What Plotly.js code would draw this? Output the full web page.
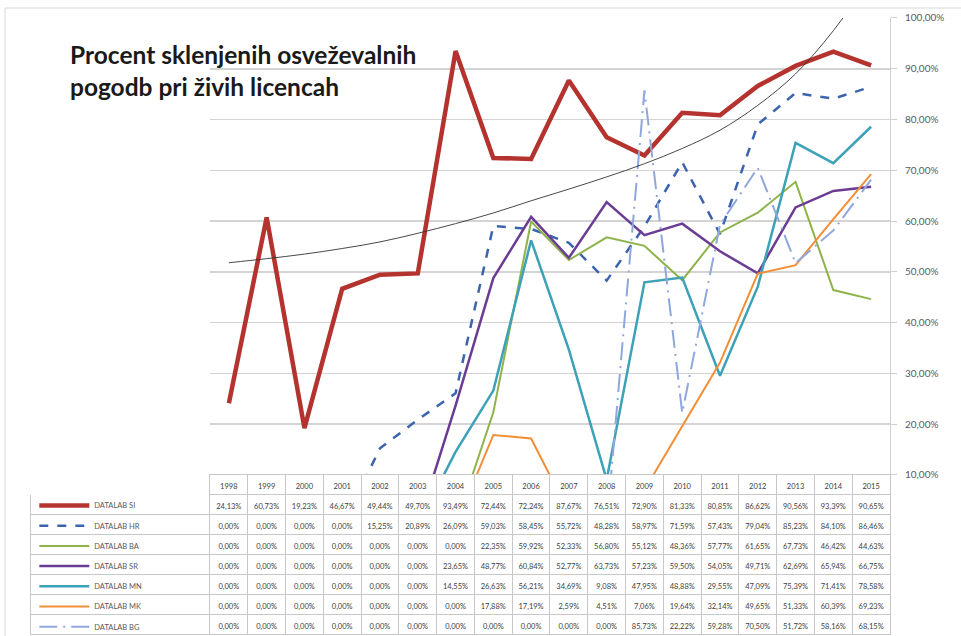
<!DOCTYPE html>
<html>
<head>
<meta charset="utf-8">
<script src="https://cdn.plot.ly/plotly-3.0.1.min.js"></script>
<style>html,body{margin:0;padding:0;background:#fff;}#chart{width:961px;height:636px;}</style>
</head>
<body>
<div id="chart"></div>
<script>
const years = ['1998','1999','2000','2001','2002','2003','2004','2005','2006','2007','2008','2009','2010','2011','2012','2013','2014','2015'];
const seriesNames = ['DATALAB SI','DATALAB HR','DATALAB BA','DATALAB SR','DATALAB MN','DATALAB MK','DATALAB BG'];
const si = [24.13,60.73,19.23,46.67,49.44,49.70,93.49,72.44,72.24,87.67,76.51,72.90,81.33,80.85,86.62,90.56,93.39,90.65];
const hr = [0,0,0,0,15.25,20.89,26.09,59.03,58.45,55.72,48.28,58.97,71.59,57.43,79.04,85.23,84.10,86.46];
const ba = [0,0,0,0,0,0,0,22.35,59.92,52.33,56.80,55.12,48.36,57.77,61.65,67.73,46.42,44.63];
const sr = [0,0,0,0,0,0,23.65,48.77,60.84,52.77,63.73,57.23,59.50,54.05,49.71,62.69,65.94,66.75];
const mn = [0,0,0,0,0,0,14.55,26.63,56.21,34.69,9.08,47.95,48.88,29.55,47.09,75.39,71.41,78.58];
const mk = [0,0,0,0,0,0,0,17.88,17.19,2.59,4.51,7.06,19.64,32.14,49.65,51.33,60.39,69.23];
const bg = [0,0,0,0,0,0,0,0,0,0,0,85.73,22.22,59.28,70.50,51.72,58.16,68.15];
// trendline values (SI trend)
const trendSI = [51.8,52.6,53.5,54.6,55.9,57.6,59.5,61.6,64.0,66.3,68.7,71.3,74.3,77.9,82.8,89.0,97.5,108.0];

const seriesData = [si, hr, ba, sr, mn, mk, bg];
const colors = ['#b5332e','#3c64ae','#8db34a','#6b3c93','#3da1b7','#f28e36','#8fa7dc'];
const widths = [4.5, 2.5, 2, 2.5, 2.5, 2, 2];
const dashes = ['solid','dash','solid','solid','solid','solid','18px,6px,2px,6px'];

const fmt = v => v.toFixed(2).replace('.', ',') + '%';

const traces = seriesData.map((d, i) => ({
  type: 'scatter', mode: 'lines', x: years, y: d, name: seriesNames[i],
  legendgroup: 'g' + i,
  line: {color: colors[i], width: widths[i], dash: dashes[i]},
  hoverinfo: 'skip'
}));
traces.push({
  type: 'scatter', mode: 'lines', x: years, y: trendSI, name: 'trend',
  showlegend: false, line: {color: '#333', width: 0.9, shape: 'spline'}, hoverinfo: 'skip'
});

const grid = '#c8c8c8';
const headerVals = [''].concat(years);
const cellVals = [seriesNames.map(() => '')].concat(
  years.map((y, j) => seriesData.map(d => fmt(d[j])))
);
traces.push({
  type: 'table',
  domain: {x: [0, 1], y: [0, 0.2564]},
  columnwidth: [180].concat(years.map(() => 37.8)),
  header: {
    values: headerVals, height: 20, align: 'center',
    fill: {color: 'white'},
    line: {color: ['white'].concat(years.map(() => grid)), width: 1},
    font: {family: 'Lato', size: 7.5, color: '#404040'}
  },
  cells: {
    values: cellVals, height: 20, align: 'center',
    fill: {color: 'white'},
    line: {color: grid, width: 1},
    font: {family: 'Lato', size: 7.5, color: '#404040'}
  }
});

const layout = {
  width: 961, height: 636,
  margin: {l: 30, r: 71, t: 8, b: 0, autoexpand: false},
  paper_bgcolor: 'white', plot_bgcolor: 'rgba(0,0,0,0)',
  separators: ', ',
  showlegend: true,
  title: {
    text: '<b>Procent sklenjenih osveževalnih<br>pogodb pri živih licencah</b>',
    xref: 'container', yref: 'container', x: 70/961, xanchor: 'left',
    y: 1 - 64/636, yanchor: 'top',
    font: {family: 'Lato', size: 24.5, color: '#1a1a1a'}
  },
  xaxis: {
    domain: [0.2093, 1], range: [-0.5, 17.5], type: 'category',
    showgrid: false, zeroline: false, showticklabels: false, showline: false, ticks: ''
  },
  yaxis: {
    side: 'right', domain: [0.2564, 0.9841], range: [10, 100], dtick: 10, tick0: 0,
    tickformat: '.2f', ticksuffix: '%',
    gridcolor: '#d4d4d4', gridwidth: 1.5, zeroline: false,
    showline: true, linecolor: '#d0d0d0', linewidth: 1,
    ticks: 'outside', ticklen: 6, tickcolor: '#d0d0d0',
    ticklabelstandoff: 6,
    tickfont: {family: 'Lato', size: 10, color: '#595959'}
  },
  legend: {
    x: 0.005, xanchor: 'left', y: 0.2309, yanchor: 'top',
    bgcolor: 'rgba(0,0,0,0)', borderwidth: 0,
    font: {family: 'Lato', size: 7.5, color: '#595959'},
    tracegroupgap: 1.2, itemwidth: 50, traceorder: 'grouped'
  },
  shapes: [{
    type: 'rect', xref: 'paper', yref: 'paper',
    x0: (5 - 30) / 860, x1: (975 - 30) / 860, y0: -0.05, y1: (636 - 8) / 628,
    line: {color: '#d9d9d9', width: 1}, fillcolor: 'rgba(0,0,0,0)', layer: 'below'
  }]
};

Plotly.newPlot('chart', traces, layout, {staticPlot: true, displayModeBar: false});
</script>
</body>
</html>
